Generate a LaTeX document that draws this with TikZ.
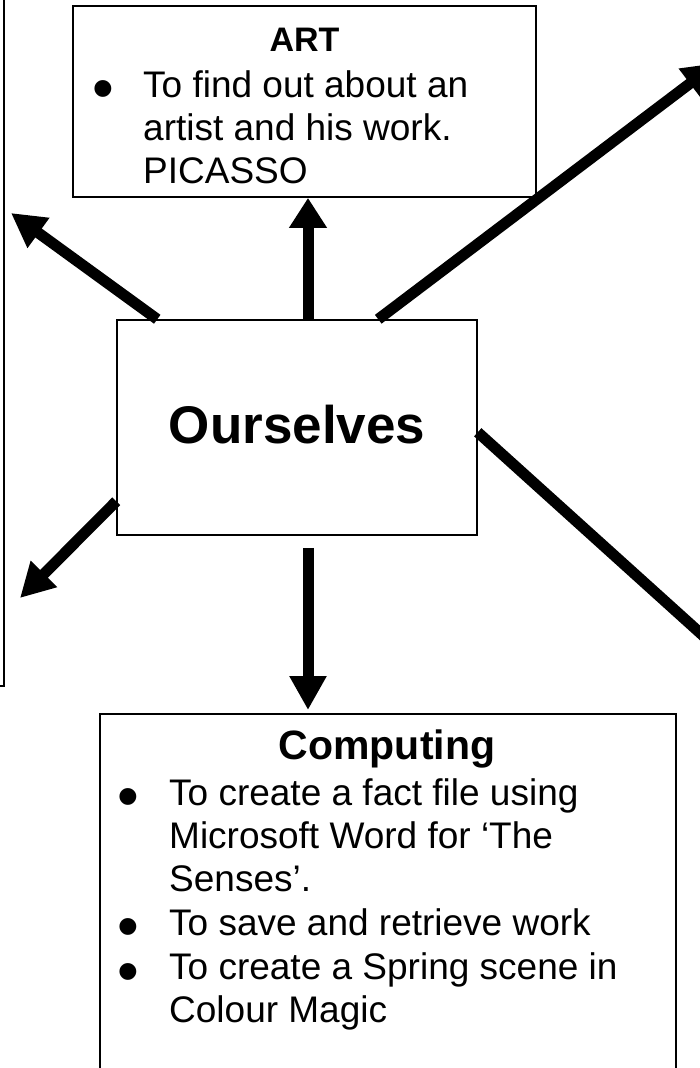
\documentclass[tikz,border=0pt]{standalone}
\usepackage{fontspec}
\setmainfont{Liberation Sans}
\usetikzlibrary{arrows.meta,calc}
\newcommand\bodyfnt{\fontsize{37}{43}\selectfont}
\newcommand\bulfnt{\fontsize{62}{62}\selectfont}
\tikzset{
  box/.style={draw=black, line width=1.8pt, inner sep=0pt, fill=white},
  txt/.style={anchor=base west, inner sep=0pt, font=\bodyfnt},
  bul/.style={anchor=base, inner sep=0pt, font=\bulfnt},
  conn/.style={line width=11pt, line cap=butt},
  head/.style={-{Triangle[length=34pt,width=35pt]}}
}
\begin{document}
\begin{tikzpicture}[x=1pt,y=-1pt]
\useasboundingbox (0,0) rectangle (700,1068);
\clip (0,0) rectangle (700,1068);
\fill[white] (0,0) rectangle (700,1068);
% boxes
\node[box, minimum width=320pt, minimum height=760pt, anchor=south east] (leftbox) at (4.5,687) {};
\node[box, minimum width=463pt, minimum height=191pt] (art) at (304.5,101.5) {};
\node[box, line width=1.5pt, minimum width=360pt, minimum height=215pt] (ours) at (297,427.5) {};
\node[box, minimum width=576pt, minimum height=400pt, anchor=north west] (comp) at (99,713) {};
\coordinate (ur) at (717,63);
\coordinate (rl) at (760,687);
\coordinate (ul) at (11,213);
\coordinate (ll) at (20,598);
% connectors
\draw[conn,head] ($(ours.north west)+(41,0)$) -- (ul);
\draw[conn,-{Triangle[length=30pt,width=36pt]}] ($(ours.north)+(11,0)$) -- ($(art.south)+(3.5,0)$);
\draw[conn,head] ($(ours.north west)+(262,0)$) -- (ur);
\draw[conn] ($(ours.north east)+(0,113)$) -- (rl);
\draw[conn,head] ($(ours.north west)+(0,182)$) -- (ll);
\draw[conn,head] ($(ours.south)+(11,12)$) -- ($(comp.north west)+(209,-3)$);
% ART text
\node[anchor=base, inner sep=0pt, font=\fontsize{34}{40}\selectfont\bfseries] (arttitle) at (304.5,51) {ART};
\node[bul] (ab1) at (103,109) {•};
\node[txt] (a1) at (143,97) {To find out about an};
\node[txt] (a2) at (143,140) {artist and his work.};
\node[txt] (a3) at (143,183) {PICASSO};
% Ourselves
\node[anchor=base, inner sep=0pt, font=\fontsize{53}{60}\selectfont\bfseries] (ourstext) at (297,443) {Ourselves};
% Computing text
\node[anchor=base, inner sep=0pt, font=\fontsize{41}{48}\selectfont\bfseries] (comptitle) at (387,759) {Computing};
\node[bul] (cb1) at (128,817) {•};
\node[bul] (cb2) at (128,947) {•};
\node[bul] (cb3) at (128,992) {•};
\node[txt] (c1) at (169,805) {To create a fact file using};
\node[txt] (c2) at (169,848) {Microsoft Word for ‘The};
\node[txt] (c3) at (169,891) {Senses’.};
\node[txt] (c4) at (169,935) {To save and retrieve work};
\node[txt] (c5) at (169,979) {To create a Spring scene in};
\node[txt] (c6) at (169,1022) {Colour Magic};
\end{tikzpicture}
\end{document}
